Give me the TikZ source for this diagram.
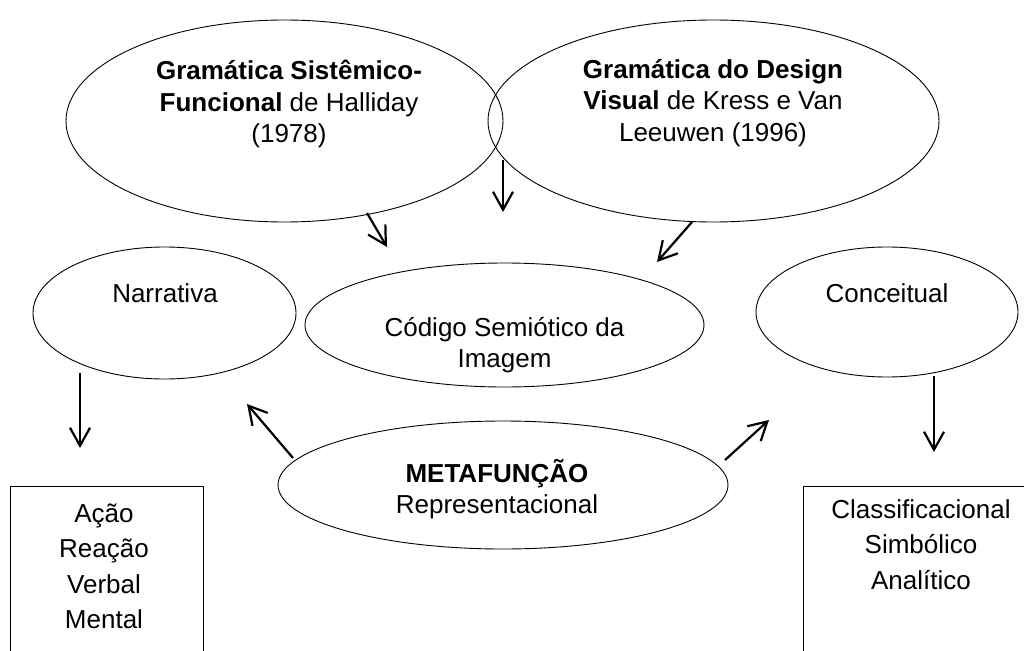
\documentclass[tikz,border=0pt]{standalone}
\usepackage{fontspec}
\setmainfont{Liberation Sans}
\usetikzlibrary{shapes.geometric,arrows.meta}
\begin{document}
\begin{tikzpicture}[x=1pt,y=-1pt,
  oval/.style={draw,ellipse,inner sep=0pt,line width=0.9pt},
  txt/.style={anchor=base,inner sep=0pt,font=\fontsize{26}{31}\selectfont},
  arr/.style={line width=2.2pt,-{Straight Barb[length=18pt,width=20pt]}},
  openbox/.style={line width=1pt}]
\useasboundingbox (0,0) rectangle (1024,650);
\clip (0,0) rectangle (1024,650);
\fill[white] (0,0) rectangle (1024,650);
% ellipses
\node[oval,minimum width=437pt,minimum height=202pt] (hal) at (284.5,121) {};
\node[oval,minimum width=451pt,minimum height=202pt] (kre) at (713.5,121) {};
\node[oval,minimum width=263pt,minimum height=132pt] (nar) at (164.5,313) {};
\node[oval,minimum width=262pt,minimum height=130pt] (con) at (887,312) {};
\node[oval,minimum width=399pt,minimum height=124pt] (cod) at (504.5,325) {};
\node[oval,minimum width=450pt,minimum height=128pt] (met) at (503,485) {};
% texts
\node[txt] (hal1) at (289,80) {\textbf{Gramática Sistêmico-}};
\node[txt] (hal2) at (289,111) {\textbf{Funcional} de Halliday};
\node[txt] (hal3) at (289,142) {(1978)};
\node[txt] (kre1) at (713,79) {\textbf{Gramática do Design}};
\node[txt] (kre2) at (713,110) {\textbf{Visual} de Kress e Van};
\node[txt] (kre3) at (713,141) {Leeuwen (1996)};
\node[txt] (nart) at (165,302) {Narrativa};
\node[txt] (cont) at (887,302) {Conceitual};
\node[txt] (cod1) at (504.5,336) {Código Semiótico da};
\node[txt] (cod2) at (504.5,367) {Imagem};
\node[txt] (met1) at (497,482) {\textbf{METAFUNÇÃO}};
\node[txt] (met2) at (497,513) {Representacional};
% open boxes
\draw[openbox] (10,660) -- (10,486) -- (203,486) -- (203,660);
\draw[openbox] (803,660) -- (803,486) -- (1040,486);
\node[txt] (l1) at (104,522) {Ação};
\node[txt] (l2) at (104,557.5) {Reação};
\node[txt] (l3) at (104,593) {Verbal};
\node[txt] (l4) at (104,628.5) {Mental};
\node[txt] (r1) at (921,518) {Classificacional};
\node[txt] (r2) at (921,553.5) {Simbólico};
\node[txt] (r3) at (921,589) {Analítico};
% arrow end points
\coordinate (a1s) at (503,160); \coordinate (a1e) at (503,212);
\coordinate (a2s) at (367,213); \coordinate (a2e) at (387,247);
\coordinate (a3s) at (692,222); \coordinate (a3e) at (657,262);
\coordinate (a4s) at (80,373);  \coordinate (a4e) at (80,448);
\coordinate (a5s) at (293,458); \coordinate (a5e) at (247,404);
\coordinate (a6s) at (725,460); \coordinate (a6e) at (769,420);
\coordinate (a7s) at (934,376); \coordinate (a7e) at (934,452);
\foreach \i in {1,...,7} \draw[arr] (a\i s) -- (a\i e);
\end{tikzpicture}
\end{document}
